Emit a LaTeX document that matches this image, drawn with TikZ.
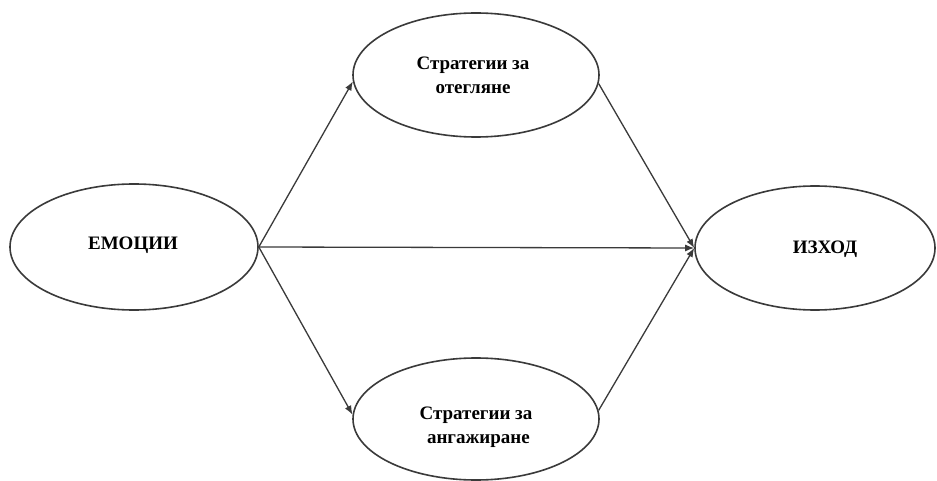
\documentclass[tikz,border=0pt]{standalone}
\usepackage{fontspec}
\setmainfont{Liberation Serif}
\usetikzlibrary{shapes.geometric,arrows.meta}
\definecolor{ink}{HTML}{3A3A3A}
\tikzset{
  oval/.style={draw=ink, line width=1.6pt, ellipse, inner sep=0pt},
  lbl/.style={font=\fontsize{19}{24}\selectfont\bfseries, align=center, text=black, inner sep=0pt},
  link/.style={draw=ink, line width=1.3pt},
  arr/.style={link, -{Latex[length=9pt,width=7pt]}}
}
\begin{document}
\begin{tikzpicture}[x=1pt,y=-1pt]
\useasboundingbox[fill=white] (0,0) rectangle (937,481);
\node[oval, minimum width=248pt, minimum height=126pt] (emo) at (134,247) {};
\node[oval, minimum width=246pt, minimum height=124pt] (top) at (476,75) {};
\node[oval, minimum width=246pt, minimum height=122pt] (bot) at (476,419) {};
\node[oval, minimum width=240pt, minimum height=124pt] (out) at (815,248) {};
\node[lbl] (emot) at (133,245) {ЕМОЦИИ};
\node[lbl] (topt) at (473,75) {Стратегии за\\отегляне};
\node[lbl] (bott) at (476,427) {Стратегии за\\\ ангажиране};
\node[lbl] (outt) at (825,249) {ИЗХОД};
\draw[arr] (emo.east) -- (top.183);
\draw[arr] (emo.east) -- (bot.178);
\draw[arr] (emo.east) -- (out.west);
\draw[arr] (top.-4) -- (out.west);
\draw[arr] (bot.4) -- (out.west);
\end{tikzpicture}
\end{document}
